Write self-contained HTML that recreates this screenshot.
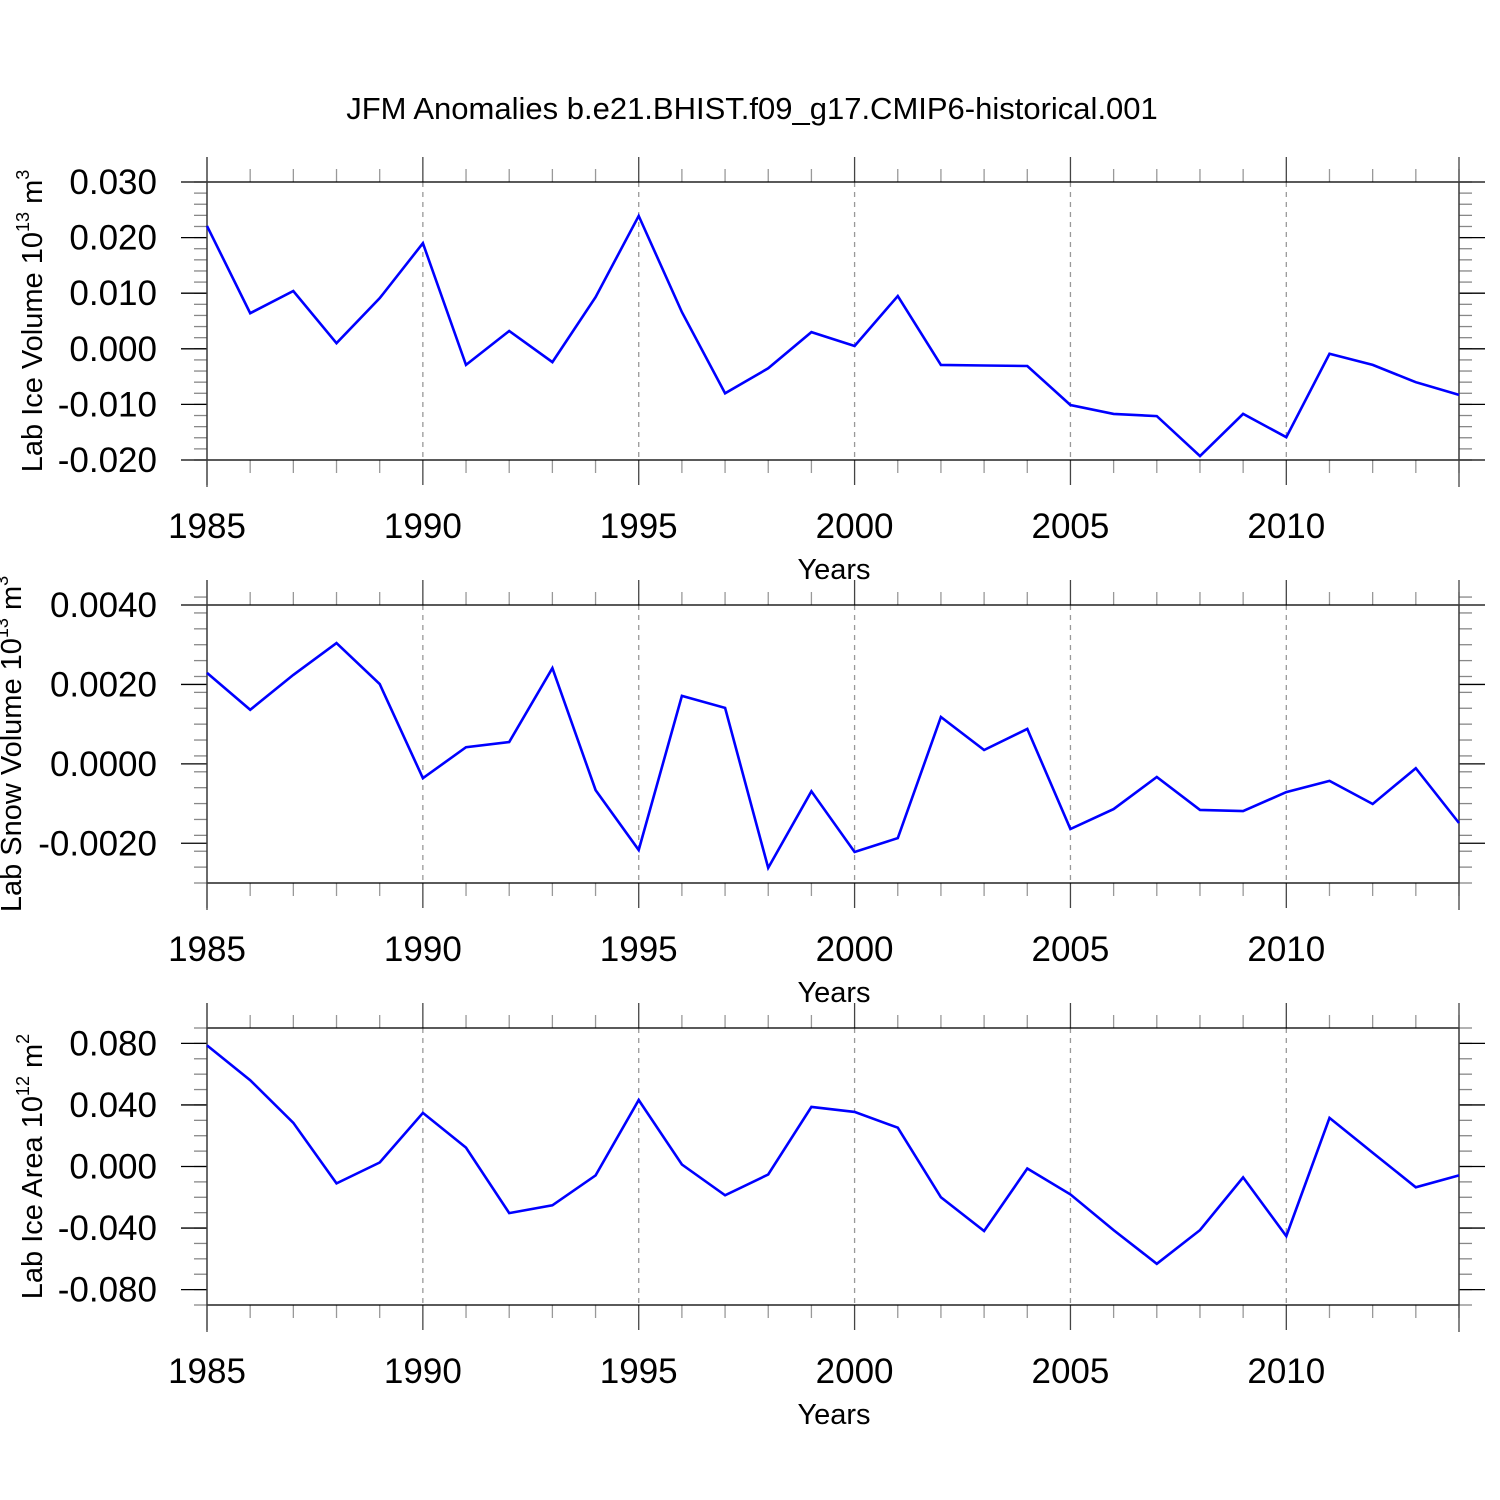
<!DOCTYPE html>
<html><head><meta charset="utf-8"><style>
html,body{margin:0;padding:0;background:#fff;}
svg{display:block;font-family:"Liberation Sans",sans-serif;}
</style></head><body>
<svg id="chart" width="1500" height="1500" viewBox="0 0 1500 1500">
<text x="752" y="119" font-size="31" text-anchor="middle">JFM Anomalies b.e21.BHIST.f09_g17.CMIP6-historical.001</text>
</svg>
<script>
const years = [1985,1986,1987,1988,1989,1990,1991,1992,1993,1994,1995,1996,1997,1998,1999,2000,2001,2002,2003,2004,2005,2006,2007,2008,2009,2010,2011,2012,2013,2014];
const xTickLabels = ["1985","1990","1995","2000","2005","2010"];
const iceVolume = [0.0221,0.0064,0.0104,0.0010,0.0091,0.0190,-0.0029,0.0032,-0.0024,0.0093,0.0239,0.0066,-0.0080,-0.0035,0.0030,0.0005,0.0095,-0.0029,-0.0030,-0.0031,-0.0101,-0.0117,-0.0121,-0.0193,-0.0117,-0.0159,-0.0009,-0.0029,-0.0060,-0.0083];
const snowVolume = [0.00229,0.00136,0.00224,0.00304,0.00201,-0.00036,0.00042,0.00055,0.00241,-0.00066,-0.00217,0.00171,0.00141,-0.00262,-0.00069,-0.00222,-0.00187,0.00118,0.00035,0.00088,-0.00164,-0.00114,-0.00033,-0.00116,-0.00119,-0.00071,-0.00043,-0.00101,-0.00011,-0.00149];
const iceArea = [0.0787,0.0561,0.0284,-0.0110,0.0026,0.0348,0.0123,-0.0303,-0.0252,-0.0058,0.0432,0.0013,-0.0187,-0.0052,0.0387,0.0355,0.0252,-0.0200,-0.0419,-0.0013,-0.0181,-0.0413,-0.0632,-0.0413,-0.0071,-0.0452,0.0316,0.0090,-0.0135,-0.0058];
const volTicks = ["0.030","0.020","0.010","0.000","-0.010","-0.020"];
const snowTicks = ["0.0040","0.0020","0.0000","-0.0020"];
const areaTicks = ["0.080","0.040","0.000","-0.040","-0.080"];

const svg = document.getElementById('chart');
const NS = 'http://www.w3.org/2000/svg';
function mk(tag, attrs, parent){
  const e = document.createElementNS(NS, tag);
  for (const k in attrs) e.setAttribute(k, attrs[k]);
  (parent||svg).appendChild(e);
  return e;
}
const X0 = 207, X1 = 1459;
function xScale(yr){ return X0 + (yr - 1985) * (X1 - X0) / 29; }

function panel(name, top, bottom, ymin, ymax, ticks, minorStep, values, titleMain, titleSup, titleUnit, unitSup){
  const g = mk('g', {});
  
  
  const ys = v => bottom - (v - ymin) / (ymax - ymin) * (bottom - top);
  xTickLabels.forEach(l => {
    const yr = +l; const x = xScale(yr);
    if (yr > 1985) {
      const gl = mk('line', {x1:x, x2:x, y1:top, y2:bottom, stroke:'#999', 'stroke-width':1.3, 'stroke-dasharray':'5,5'}, g);
      
      
    }
  });
  years.forEach(yr => {
    const x = xScale(yr);
    const major = (yr % 5 === 0);
    const len = major ? 25 : 13;
    const col = major ? '#444' : '#999';
    mk('line', {x1:x, x2:x, y1:top - len, y2:top, stroke:col, 'stroke-width':1.3}, g);
    mk('line', {x1:x, x2:x, y1:bottom, y2:bottom + len, stroke:col, 'stroke-width':1.3}, g);
  });
  const nMinor = Math.round((ymax - ymin) / minorStep);
  for (let i = 0; i <= nMinor; i++) {
    const v = ymin + i * minorStep;
    const y = ys(v);
    mk('line', {x1:X0 - 13, x2:X0, y1:y, y2:y, stroke:'#888', 'stroke-width':1.3}, g);
    mk('line', {x1:X1, x2:X1 + 13, y1:y, y2:y, stroke:'#888', 'stroke-width':1.3}, g);
  }
  ticks.forEach(t => {
    const y = ys(parseFloat(t));
    mk('line', {x1:X0 - 26, x2:X0, y1:y, y2:y, stroke:'#000', 'stroke-width':1.3}, g);
    mk('line', {x1:X1, x2:X1 + 26, y1:y, y2:y, stroke:'#000', 'stroke-width':1.3}, g);
    const tl = mk('text', {x:157, y:y + 12, 'font-size':35, 'text-anchor':'end'}, g);
    tl.textContent = t;
    
    
  });
  const fr = mk('rect', {x:X0, y:top, width:X1 - X0, height:bottom - top, fill:'none', stroke:'#000', 'stroke-width':1.3}, g);
  
  
  mk('line', {x1:X0, x2:X0, y1:top - 25, y2:bottom + 27, stroke:'#444', 'stroke-width':1.3}, g);
  mk('line', {x1:X1, x2:X1, y1:top - 25, y2:bottom + 27, stroke:'#444', 'stroke-width':1.3}, g);
  xTickLabels.forEach(l => {
    const xl = mk('text', {x:xScale(+l), y:bottom + 78, 'font-size':35, 'text-anchor':'middle'}, g);
    xl.textContent = l;
    
    
  });
  const xt = mk('text', {x:834, y:bottom + 119, 'font-size':29, 'text-anchor':'middle'}, g);
  xt.textContent = 'Years';
  
  
  const cy = (top + bottom) / 2;
  const tx = name === 'snow-volume' ? 21 : 42;
  const yt = mk('text', {x:0, y:0, 'font-size':29, 'text-anchor':'middle', transform:`translate(${tx},${cy}) rotate(-90)`}, g);
  
  
  const s1 = mk('tspan', {}, yt); s1.textContent = titleMain;
  const s2 = mk('tspan', {dy:-13, 'font-size':18}, yt); s2.textContent = titleSup;
  const s3 = mk('tspan', {dy:13}, yt); s3.textContent = titleUnit;
  const s4 = mk('tspan', {dy:-13, 'font-size':18}, yt); s4.textContent = unitSup;
  const pts = values.map((v, i) => xScale(years[i]).toFixed(1) + ',' + ys(v).toFixed(1)).join(' ');
  const pl = mk('polyline', {points:pts, fill:'none', stroke:'#0000ff', 'stroke-width':2.6, 'stroke-linejoin':'miter'}, g);
  
  
}

panel('ice-volume', 182, 460, -0.020, 0.030, volTicks, 0.002, iceVolume, 'Lab Ice Volume 10', '13', ' m', '3');
panel('snow-volume', 605, 883, -0.003, 0.004, snowTicks, 0.0004, snowVolume, 'Lab Snow Volume 10', '13', ' m', '3');
panel('ice-area', 1028, 1305, -0.09, 0.09, areaTicks, 0.01, iceArea, 'Lab Ice Area 10', '12', ' m', '2');
</script>
</body></html>
